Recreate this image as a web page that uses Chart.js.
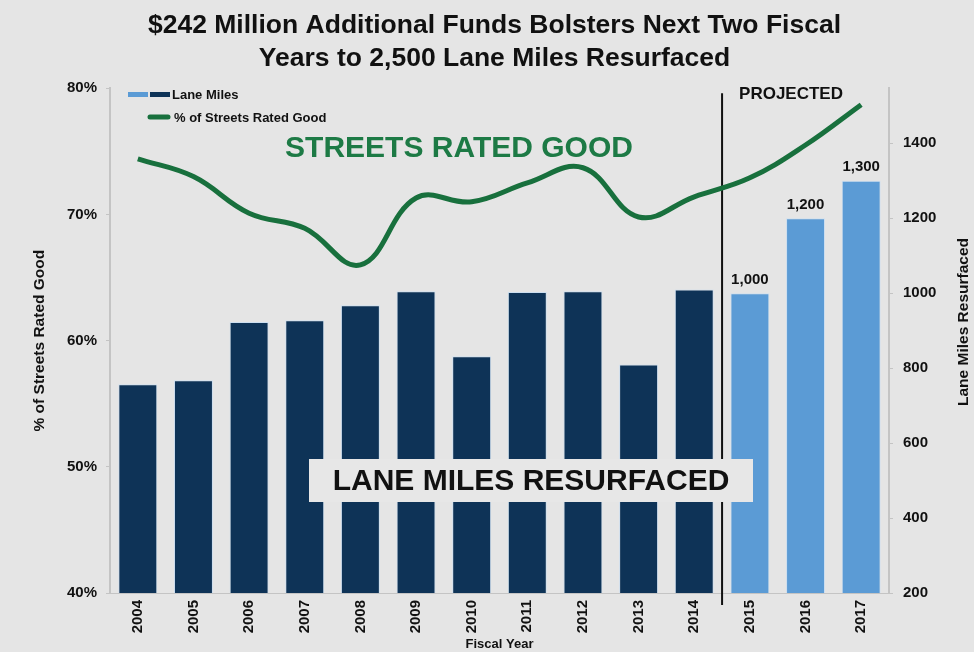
<!DOCTYPE html>
<html>
<head>
<meta charset="utf-8">
<script src="https://cdn.jsdelivr.net/npm/chart.js@4.4.1/dist/chart.umd.min.js"></script>
<style>
  html, body { margin: 0; padding: 0; background: #e5e5e5; }
  #wrap { width: 974px; height: 652px; }
</style>
</head>
<body>
<div id="wrap"><canvas id="chart" width="974" height="652"></canvas></div>
<script>
const years = ["2004", "2005", "2006", "2007", "2008", "2009", "2010", "2011", "2012", "2013", "2014", "2015", "2016", "2017"];
const laneMiles = [757, 768, 923, 928, 968, 1005, 832, 1003, 1005, 810, 1010, 1000, 1200, 1300];
const pctGood = [74.4, 73.0, 70.1, 68.9, 66.0, 71.3, 71.0, 72.5, 73.7, 69.8, 71.4, 72.9, 75.5, 78.7];
const projectedFrom = 11; // first projected year index (2015)
const labelledBars = [11, 12, 13];
const leftTicks = [40, 50, 60, 70, 80];
const rightTicks = [200, 400, 600, 800, 1000, 1200, 1400];

const FONT = '"Liberation Sans", Arial, Helvetica, sans-serif';
const navy = '#0e3357';
const lightBlue = '#5b9bd5';
const green = '#18703d';

const barColors = laneMiles.map((v, i) => i >= projectedFrom ? lightBlue : navy);

const extras = {
  id: 'extras',
  beforeDraw(chart) {
    const ctx = chart.ctx;
    ctx.save();
    ctx.fillStyle = '#e5e5e5';
    ctx.fillRect(0, 0, chart.width, chart.height);
    ctx.restore();
  },
  beforeDatasetsDraw(chart) {
    const ctx = chart.ctx;
    const x = chart.scales.x;
    const a = chart.chartArea;
    const xs = (x.getPixelForValue(projectedFrom - 1) + x.getPixelForValue(projectedFrom)) / 2;
    ctx.save();
    ctx.strokeStyle = '#111';
    ctx.lineWidth = 2;
    ctx.beginPath();
    ctx.moveTo(xs, a.top + 5);
    ctx.lineTo(xs, a.bottom + 12);
    ctx.stroke();
    ctx.fillStyle = '#111';
    ctx.font = 'bold 17px ' + FONT;
    ctx.textBaseline = 'middle';
    ctx.textAlign = 'left';
    ctx.fillText('PROJECTED', xs + 17, a.top + 6);
    ctx.restore();
  },
  afterDraw(chart) {
    // right axis title, reading bottom to top like the left one
    const ctx = chart.ctx;
    ctx.save();
    ctx.translate(964, 322);
    ctx.rotate(-Math.PI / 2);
    ctx.fillStyle = '#111';
    ctx.font = 'bold 15.5px ' + FONT;
    ctx.textAlign = 'center';
    ctx.textBaseline = 'middle';
    ctx.fillText('Lane Miles Resurfaced', 0, 0);
    ctx.restore();
  },
  afterDatasetsDraw(chart) {
    const ctx = chart.ctx;
    const meta = chart.getDatasetMeta(1);
    ctx.save();
    // value labels on projected bars
    ctx.fillStyle = '#111';
    ctx.font = 'bold 15px ' + FONT;
    ctx.textAlign = 'center';
    ctx.textBaseline = 'bottom';
    labelledBars.forEach(i => {
      const bar = meta.data[i];
      ctx.fillText(laneMiles[i].toLocaleString('en-US'), bar.x, bar.y - 6);
    });
    // annotation texts
    ctx.fillStyle = '#1d7a45';
    ctx.font = 'bold 30px ' + FONT;
    ctx.textBaseline = 'middle';
    ctx.fillText('STREETS RATED GOOD', 459, 149);
    ctx.fillStyle = '#e7e7e7';
    ctx.fillRect(309, 459, 444, 43);
    ctx.fillStyle = '#111';
    ctx.font = 'bold 30px ' + FONT;
    ctx.fillText('LANE MILES RESURFACED', 531, 482);
    // legend
    ctx.fillStyle = lightBlue;
    ctx.fillRect(128, 92, 20, 5);
    ctx.fillStyle = navy;
    ctx.fillRect(150, 92, 20, 5);
    ctx.strokeStyle = green;
    ctx.lineWidth = 5;
    ctx.lineCap = 'round';
    ctx.beginPath();
    ctx.moveTo(150, 117);
    ctx.lineTo(168, 117);
    ctx.stroke();
    ctx.fillStyle = '#111';
    ctx.font = 'bold 13px ' + FONT;
    ctx.textAlign = 'left';
    ctx.fillText('Lane Miles', 172, 95);
    ctx.fillText('% of Streets Rated Good', 174, 118);
    ctx.restore();
  }
};

new Chart(document.getElementById('chart').getContext('2d'), {
  data: {
    labels: years,
    datasets: [{
      type: 'line',
      label: '% of Streets Rated Good',
      data: pctGood,
      yAxisID: 'y',
      borderColor: green,
      borderWidth: 5,
      pointRadius: 0,
      tension: 0.4,
      order: 1
    }, {
      type: 'bar',
      label: 'Lane Miles',
      data: laneMiles,
      yAxisID: 'y1',
      backgroundColor: barColors,
      borderColor: '#cddff0',
      borderWidth: 1,
      barPercentage: 0.7,
      categoryPercentage: 1.0,
      order: 2
    }]
  },
  options: {
    responsive: false,
    animation: false,
    layout: { padding: { left: 15, right: 0, top: 0, bottom: 0 } },
    plugins: {
      legend: { display: false },
      tooltip: { enabled: false },
      title: {
        display: true,
        text: ['$242 Million Additional Funds Bolsters Next Two Fiscal', 'Years to 2,500 Lane Miles Resurfaced'],
        color: '#111',
        font: { family: FONT, size: 26.5, weight: 'bold', lineHeight: 1.25 },
        padding: { top: 9, bottom: 13 }
      }
    },
    scales: {
      x: {
        grid: { display: false, drawTicks: false },
        border: { color: '#c4c4c4' },
        ticks: { color: '#111', font: { family: FONT, size: 15, weight: 'bold' }, maxRotation: 90, minRotation: 90, padding: 7 },
        title: { display: true, text: 'Fiscal Year', color: '#111', font: { family: FONT, size: 13, weight: 'bold' }, padding: { top: 0, bottom: 0 } },
        afterFit(s) { s.height = 59; }
      },
      y: {
        position: 'left',
        min: 40,
        max: 80,
        afterBuildTicks(s) { s.ticks = leftTicks.map(v => ({ value: v })); },
        grid: { drawOnChartArea: false, tickLength: 4, color: '#c4c4c4' },
        border: { color: '#c4c4c4', width: 2 },
        ticks: { color: '#111', font: { family: FONT, size: 15, weight: 'bold' }, padding: 9, callback: v => v + '%' },
        title: { display: true, text: '% of Streets Rated Good', color: '#111', font: { family: FONT, size: 15.5, weight: 'bold' }, padding: { top: 15, bottom: 0 } },
        afterFit(s) { s.width = 95; }
      },
      y1: {
        position: 'right',
        min: 200,
        max: 1547,
        afterBuildTicks(s) { s.ticks = rightTicks.map(v => ({ value: v })); },
        grid: { drawOnChartArea: false, tickLength: 4, color: '#c4c4c4' },
        border: { color: '#c4c4c4', width: 2 },
        ticks: { color: '#111', font: { family: FONT, size: 15, weight: 'bold' }, padding: 10, callback: v => String(v) },
        afterFit(s) { s.width = 85; }
      }
    }
  },
  plugins: [extras]
});
</script>
</body>
</html>
